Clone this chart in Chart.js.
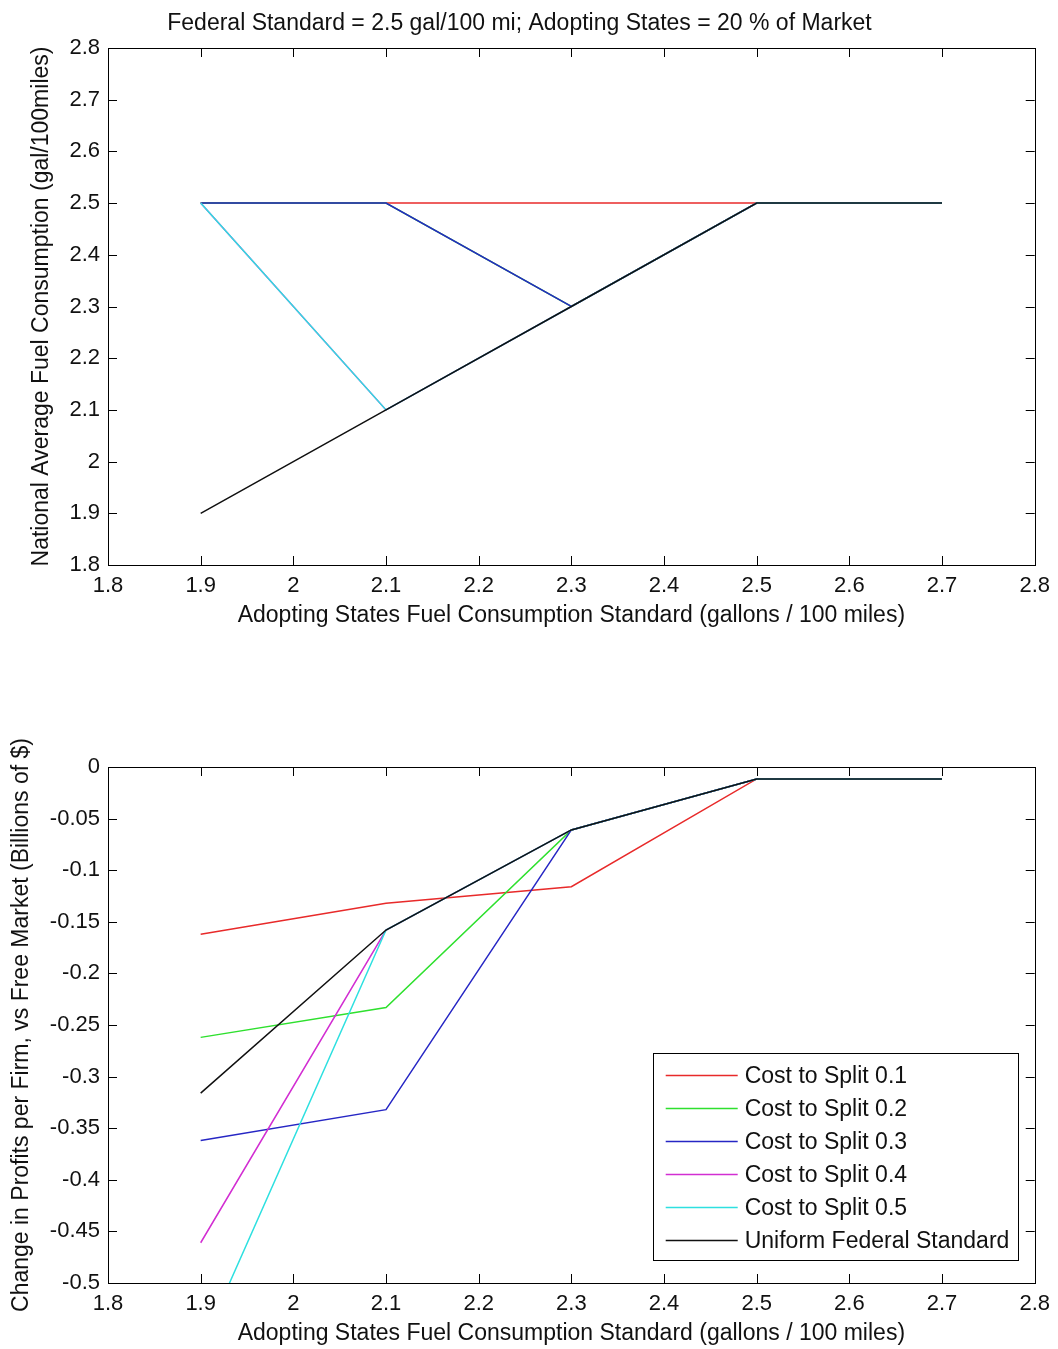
<!DOCTYPE html>
<html>
<head>
<meta charset="utf-8">
<title>Adopting States Fuel Consumption Standard</title>
<script src="https://cdn.jsdelivr.net/npm/chart.js@4/dist/chart.umd.min.js"></script>
<style>
    html, body { margin: 0; padding: 0; background: #fff; overflow: hidden; }
    #wrap { position: relative; width: 1058px; height: 1349px; }
    .panel { position: absolute; left: 0; width: 1058px; }
</style>
</head>
<body>
<div id="wrap">
    <div class="panel" style="top:0;height:650px"><canvas id="topChart"></canvas></div>
    <div class="panel" style="top:650px;height:699px"><canvas id="bottomChart"></canvas></div>
</div>
<script>
// standards on x axis (gal / 100 mi)
const xValues = [1.9, 2.1, 2.3, 2.5, 2.7];
const seriesNames = ["Cost to Split 0.1", "Cost to Split 0.2", "Cost to Split 0.3",
    "Cost to Split 0.4", "Cost to Split 0.5", "Uniform Federal Standard"];
const seriesColors = ["#e82a2a", "#2ee02e", "#2626c4", "#d22ed2", "#2ee0e0", "#101010"];

// top panel - national average fuel consumption
const avgSplit01 = [2.5, 2.5, 2.5, 2.5, 2.5];
const avgSplit02 = [2.5, 2.5, 2.3, 2.5, 2.5];
const avgSplit03 = [2.5, 2.5, 2.3, 2.5, 2.5];
const avgSplit04 = [2.5, 2.1, 2.3, 2.5, 2.5];
const avgSplit05 = [2.5, 2.1, 2.3, 2.5, 2.5];
const avgUniform = [1.9, 2.1, 2.3, 2.5, 2.5];

// bottom panel - change in profits per firm (billions of $)
const profSplit01 = [-0.162, -0.132, -0.116, -0.0116, -0.0116];
const profSplit02 = [-0.262, -0.233, -0.061, -0.0116, -0.0116];
const profSplit03 = [-0.362, -0.332, -0.061, -0.0116, -0.0116];
const profSplit04 = [-0.461, -0.158, -0.061, -0.0116, -0.0116];
const profSplit05 = [-0.563, -0.158, -0.061, -0.0116, -0.0116];
const profUniform = [-0.316, -0.158, -0.061, -0.0116, -0.0116];

// tick labels
const xTicks = [1.8, 1.9, 2.0, 2.1, 2.2, 2.3, 2.4, 2.5, 2.6, 2.7, 2.8];
const yTicksTop = [1.8, 1.9, 2.0, 2.1, 2.2, 2.3, 2.4, 2.5, 2.6, 2.7, 2.8];
const yTicksBottom = [-0.5, -0.45, -0.4, -0.35, -0.3, -0.25, -0.2, -0.15, -0.1, -0.05, 0];

const FONT = "'Liberation Sans', Arial, Helvetica, sans-serif";
const tickFont = { family: FONT, size: 22, lineHeight: 1.2 };
const labelFont = { family: FONT, size: 23, lineHeight: 1.2, weight: "normal" };

function fmt(v) {
    return String(parseFloat(Number(v).toFixed(2)));
}

function buildSets(series) {
    return series.map(function (vals, i) {
        return {
            label: seriesNames[i],
            data: xValues.map(function (x, k) { return { x: x, y: vals[k] }; }),
            borderColor: seriesColors[i],
            backgroundColor: seriesColors[i],
            borderWidth: 1.5,
            pointRadius: 0,
            tension: 0,
            clip: 0,
            order: series.length - i // black on top, like matlab
        };
    });
}

// matlab style box with inward ticks
const matlabAxes = {
    id: "matlabAxes",
    afterDatasetsDraw(chart) {
        const { ctx, chartArea: a, scales } = chart;
        ctx.save();
        ctx.strokeStyle = "#000";
        ctx.lineWidth = 1;
        ctx.beginPath();
        scales.x.ticks.forEach(function (t) {
            const px = Math.round(scales.x.getPixelForValue(t.value)) + 0.5;
            ctx.moveTo(px, a.bottom); ctx.lineTo(px, a.bottom - 9);
            ctx.moveTo(px, a.top); ctx.lineTo(px, a.top + 9);
        });
        scales.y.ticks.forEach(function (t) {
            const py = Math.round(scales.y.getPixelForValue(t.value)) + 0.5;
            ctx.moveTo(a.left, py); ctx.lineTo(a.left + 9, py);
            ctx.moveTo(a.right, py); ctx.lineTo(a.right - 9, py);
        });
        ctx.stroke();
        ctx.strokeRect(Math.round(a.left) + 0.5, Math.round(a.top) + 0.5,
            Math.round(a.right - a.left), Math.round(a.bottom - a.top));
        ctx.restore();
    }
};

// legend box inside the plot, bottom right
const boxLegend = {
    id: "boxLegend",
    afterDraw(chart) {
        if (!chart.options.plugins.boxLegend || !chart.options.plugins.boxLegend.show) return;
        const { ctx, chartArea: a } = chart;
        const w = 365, h = 207, rowH = 33;
        const right = a.right - 17, bottom = a.bottom - 23;
        const left = right - w, top = bottom - h;
        ctx.save();
        ctx.fillStyle = "#fff";
        ctx.fillRect(left, top, w, h);
        ctx.strokeStyle = "#000";
        ctx.lineWidth = 1;
        ctx.strokeRect(Math.round(left) + 0.5, Math.round(top) + 0.5, w, h);
        ctx.font = "23px " + FONT;
        ctx.textBaseline = "middle";
        ctx.textAlign = "left";
        chart.data.datasets.forEach(function (d, i) {
            const y = Math.round(top + 22 + i * rowH) + 0.5;
            ctx.strokeStyle = d.borderColor;
            ctx.lineWidth = 1.5;
            ctx.beginPath();
            ctx.moveTo(left + 13, y);
            ctx.lineTo(left + 85, y);
            ctx.stroke();
            ctx.fillStyle = "#111";
            ctx.fillText(d.label, left + 92, y + 1);
        });
        ctx.restore();
    }
};

function makeOptions(o) {
    return {
        responsive: true,
        maintainAspectRatio: false,
        animation: false,
        layout: { autoPadding: false, padding: { left: 0, right: 19, top: o.padTop, bottom: 0 } },
        plugins: {
            legend: { display: false },
            tooltip: { enabled: false },
            title: o.title ? {
                display: true, text: o.title, color: "#111", font: labelFont,
                padding: { top: 10, bottom: 10.4 }
            } : { display: false },
            boxLegend: { show: !!o.legend }
        },
        scales: {
            x: {
                type: "linear", min: 1.8, max: 2.8,
                afterBuildTicks: function (s) { s.ticks = xTicks.map(function (v) { return { value: v }; }); },
                afterFit: function (s) { s.height = o.xHeight; },
                grid: { display: false, drawTicks: false },
                border: { display: false },
                ticks: { color: "#111", font: tickFont, padding: 8, maxRotation: 0, autoSkip: false, callback: fmt },
                title: {
                    display: true, color: "#111", font: labelFont,
                    text: "Adopting States Fuel Consumption Standard (gallons / 100 miles)",
                    padding: { top: 0, bottom: o.xTitlePad }
                }
            },
            y: {
                type: "linear", min: o.yMin, max: o.yMax,
                afterBuildTicks: function (s) { s.ticks = o.yTicks.map(function (v) { return { value: v }; }); },
                afterFit: function (s) { s.width = 108; },
                grid: { display: false, drawTicks: false },
                border: { display: false },
                ticks: { color: "#111", font: tickFont, padding: 8, autoSkip: false, callback: fmt },
                title: {
                    display: true, color: "#111", font: labelFont, text: o.yTitle,
                    padding: { top: o.yTitlePad, bottom: 0 }
                }
            }
        }
    };
}

new Chart(document.getElementById("topChart"), {
    type: "line",
    data: { datasets: buildSets([avgSplit01, avgSplit02, avgSplit03, avgSplit04, avgSplit05, avgUniform]) },
    options: makeOptions({
        title: "Federal Standard = 2.5 gal/100 mi; Adopting States = 20 % of Market",
        padTop: 0, xHeight: 85, xTitlePad: 20.5, yTitlePad: 28,
        yMin: 1.8, yMax: 2.8, yTicks: yTicksTop,
        yTitle: "National Average Fuel Consumption (gal/100miles)"
    }),
    plugins: [matlabAxes, boxLegend]
});

new Chart(document.getElementById("bottomChart"), {
    type: "line",
    data: { datasets: buildSets([profSplit01, profSplit02, profSplit03, profSplit04, profSplit05, profUniform]) },
    options: makeOptions({
        title: null, legend: true,
        padTop: 117, xHeight: 66, xTitlePad: 1.5, yTitlePad: 8,
        yMin: -0.5, yMax: 0, yTicks: yTicksBottom,
        yTitle: "Change in Profits per Firm, vs Free Market (Billions of $)"
    }),
    plugins: [matlabAxes, boxLegend]
});
</script>
</body>
</html>
